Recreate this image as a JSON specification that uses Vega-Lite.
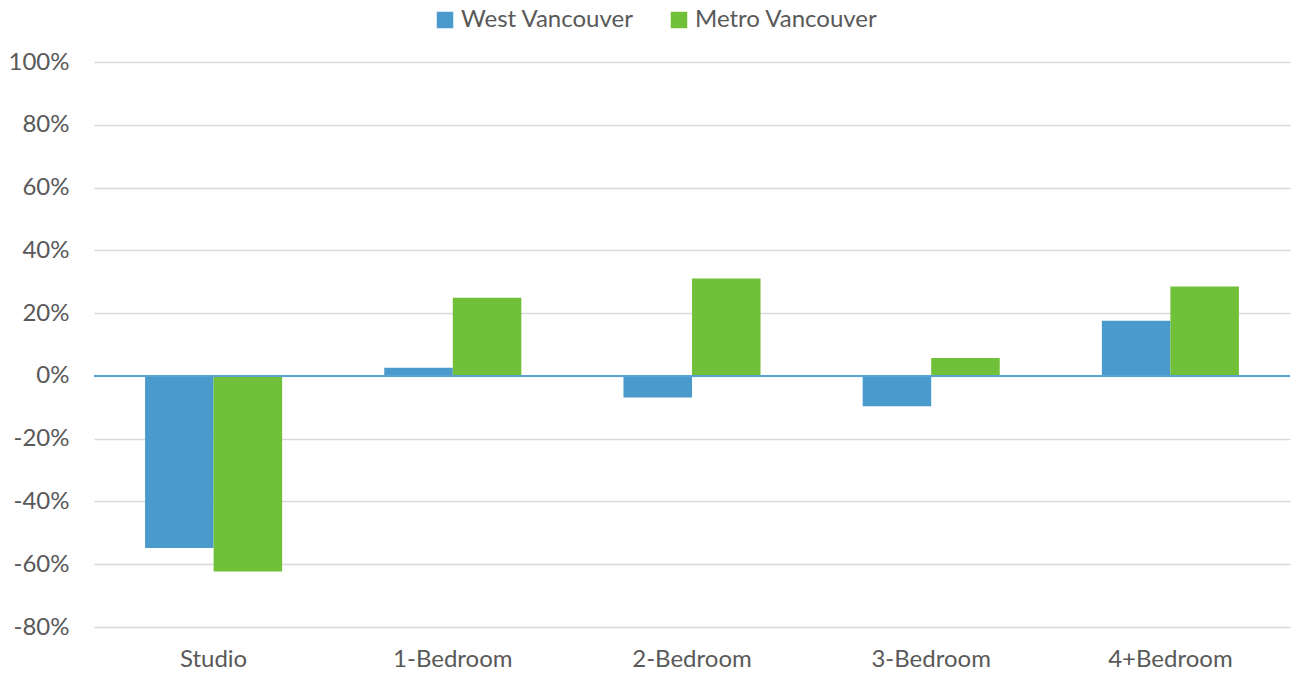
{
  "$schema": "https://vega.github.io/schema/vega-lite/v6.json",
  "autosize": {"type": "none"},
  "width": 1196,
  "height": 565,
  "padding": {"left": 94, "top": 62, "right": 2, "bottom": 46},
  "background": "white",
  "config": {
    "view": {"stroke": null},
    "font": "Lato",
    "axis": {"labelFont": "Lato", "labelColor": "#595959", "labelFontSize": 24},
    "legend": {"labelFont": "Lato", "labelColor": "#595959", "labelFontSize": 24}
  },
  "data": {
    "values": [
      {"type": "Studio", "region": "West Vancouver", "value": -0.548},
      {"type": "Studio", "region": "Metro Vancouver", "value": -0.623},
      {"type": "1-Bedroom", "region": "West Vancouver", "value": 0.026},
      {"type": "1-Bedroom", "region": "Metro Vancouver", "value": 0.249},
      {"type": "2-Bedroom", "region": "West Vancouver", "value": -0.069},
      {"type": "2-Bedroom", "region": "Metro Vancouver", "value": 0.31},
      {"type": "3-Bedroom", "region": "West Vancouver", "value": -0.097},
      {"type": "3-Bedroom", "region": "Metro Vancouver", "value": 0.057},
      {"type": "4+Bedroom", "region": "West Vancouver", "value": 0.176},
      {"type": "4+Bedroom", "region": "Metro Vancouver", "value": 0.285}
    ]
  },
  "layer": [
    {
      "mark": {"type": "bar"},
      "encoding": {
        "x": {
          "field": "type", "type": "nominal",
          "sort": ["Studio", "1-Bedroom", "2-Bedroom", "3-Bedroom", "4+Bedroom"],
          "scale": {"paddingInner": 0.427, "paddingOuter": 0.2135},
          "axis": {"title": null, "labelAngle": 0, "domain": false, "ticks": false, "labelPadding": 20, "grid": false}
        },
        "xOffset": {
          "field": "region", "type": "nominal",
          "sort": ["West Vancouver", "Metro Vancouver"]
        },
        "y": {
          "field": "value", "type": "quantitative",
          "scale": {"domain": [-0.8, 1.0], "nice": false},
          "axis": {
            "title": null,
            "labelExpr": "(datum.value < -0.0001 ? '-' : '') + format(abs(datum.value), '.0%')",
            "values": [-0.8, -0.6, -0.4, -0.2, 0, 0.2, 0.4, 0.6, 0.8, 1.0],
            "domain": false, "ticks": false, "labelPadding": 25,
            "grid": true, "gridColor": "#D9D9D9", "gridWidth": 1.5
          }
        },
        "color": {
          "field": "region", "type": "nominal",
          "scale": {"domain": ["West Vancouver", "Metro Vancouver"], "range": ["#4A9BCB", "#70C03A"]},
          "legend": {
            "title": null, "orient": "none", "direction": "horizontal",
            "legendX": 339, "legendY": -54,
            "symbolType": "square", "symbolSize": 272, "symbolStrokeWidth": 0,
            "columnPadding": 33, "labelOffset": 4, "labelLimit": 400
          }
        }
      }
    },
    {
      "mark": {"type": "rule", "color": "#5BA3D5", "strokeWidth": 2},
      "encoding": {"y": {"datum": 0}}
    }
  ]
}
